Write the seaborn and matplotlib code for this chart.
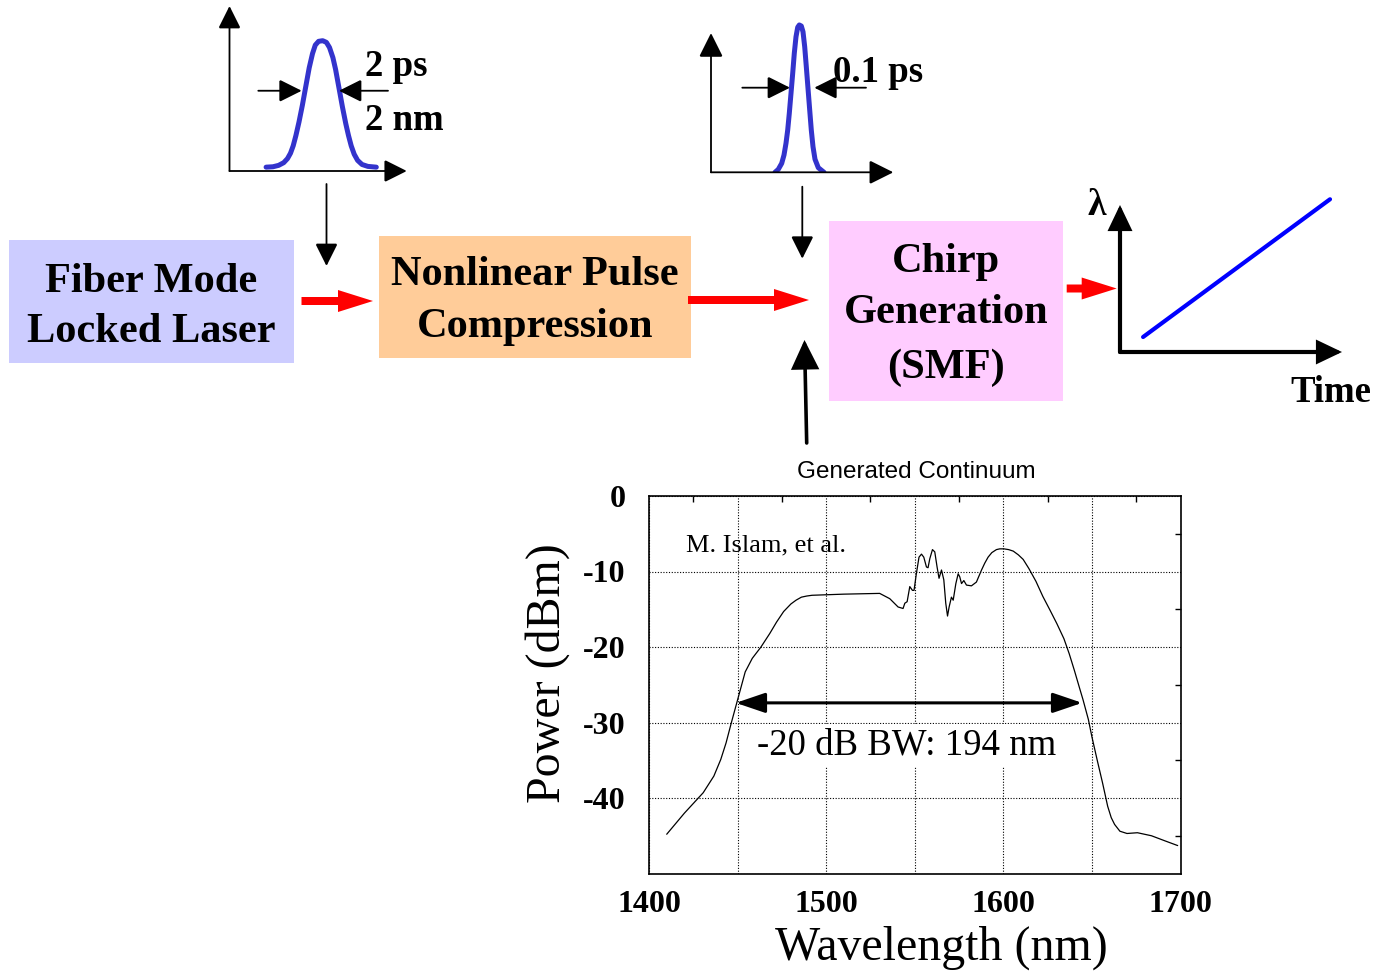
import matplotlib
matplotlib.use("Agg")
import matplotlib.pyplot as plt
import seaborn as sns
from matplotlib.patches import Rectangle, FancyArrow
from matplotlib.ticker import MultipleLocator

# ---------------- data ----------------
wavelength_nm = [1410, 1420, 1430.6, 1436.6, 1440.5, 1443.5, 1446.4, 1450, 1454.3, 1458.3,
                 1463.2, 1468.2, 1472, 1476, 1480.1, 1483, 1486, 1489, 1492, 1497.8,
                 1510, 1520, 1530.2, 1535.9, 1540.6, 1543.4, 1544.4, 1545.7, 1547.2, 1548.7,
                 1549.6, 1550.9, 1552.4, 1553.8, 1555.1, 1556.6, 1557.5, 1558.5, 1560, 1561.3,
                 1562.6, 1563.7, 1565.1, 1566.4, 1567.5, 1568.5, 1569.4, 1570.7, 1571.7, 1573.2,
                 1574.5, 1575.4, 1576.4, 1577.7, 1579.2, 1582, 1584.8, 1587.7, 1589.5, 1591.4,
                 1593.5, 1596.1, 1598, 1600.3, 1603, 1605.6, 1608.5, 1611.2, 1614.4, 1618.4,
                 1622.3, 1626.3, 1630.2, 1634.2, 1637.2, 1640.1, 1643.1, 1645, 1648, 1650,
                 1653, 1656, 1658.9, 1660.9, 1662.8, 1665.8, 1669.8, 1675.7, 1683.6, 1691.5,
                 1698.4]
power_dbm = [-44.8, -42.0, -39.3, -37.1, -34.9, -32.7, -30.1, -27.0, -23.3, -21.5,
             -20.0, -18.2, -16.7, -15.3, -14.3, -13.8, -13.4, -13.25, -13.15, -13.1,
             -13.0, -12.95, -12.9, -13.6, -14.7, -14.9, -14.2, -14.0, -12.0, -12.5,
             -12.5, -10.3, -8.1, -7.7, -8.1, -9.4, -9.5, -8.3, -7.1, -7.4,
             -9.4, -10.9, -9.8, -11.1, -14.2, -15.9, -14.7, -13.4, -13.8, -11.6,
             -10.3, -10.7, -11.6, -11.2, -11.8, -11.9, -11.4, -9.8, -8.9, -8.1,
             -7.5, -7.1, -7.0, -7.0, -7.1, -7.3, -7.8, -8.4, -9.6, -11.3,
             -13.3, -15.1, -16.9, -18.9, -20.9, -23.1, -25.5, -27.0, -29.6, -31.9,
             -35.0, -38.0, -41.1, -42.6, -43.5, -44.4, -44.7, -44.6, -45.0, -45.7,
             -46.3]

x_ticks = [1400, 1450, 1500, 1550, 1600, 1650, 1700]
x_tick_labels = ["1400", "", "1500", "", "1600", "", "1700"]
y_ticks = [0, -10, -20, -30, -40, -50]
y_tick_labels = ["0", "-10", "-20", "-30", "-40", ""]
bw_edges_nm = [1449, 1644.5]
bw_level_dbm = -27.4

# input pulse (arb. units)
pulse1_t = [3.66, 4.34, 4.91, 5.42, 5.8, 6.1, 6.37, 6.64, 6.95, 7.29, 7.63, 7.97, 8.3, 8.58,
            8.91, 9.32, 9.69, 10.0, 10.34, 10.61, 10.95, 11.29, 11.63, 11.9, 12.17, 12.47,
            12.81, 13.25, 13.83, 14.68]
pulse1_a = [0.030, 0.033, 0.044, 0.065, 0.097, 0.139, 0.197, 0.277, 0.383, 0.515, 0.661,
            0.806, 0.917, 0.984, 1.013, 1.018, 1.005, 0.965, 0.886, 0.793, 0.648, 0.502,
            0.369, 0.277, 0.197, 0.131, 0.083, 0.051, 0.036, 0.030]
pulse1_fwhm_level = 0.627
# compressed pulse (arb. units)
pulse2_t = [6.4, 6.73, 7.07, 7.3, 7.5, 7.67, 7.83, 8.0, 8.17, 8.33, 8.5, 8.67, 8.83, 9.03,
            9.2, 9.37, 9.53, 9.7, 9.87, 10.03, 10.2, 10.4, 10.73, 11.3]
pulse2_a = [0.0, 0.023, 0.070, 0.135, 0.227, 0.330, 0.461, 0.617, 0.773, 0.930, 1.059, 1.133,
            1.151, 1.143, 1.098, 0.981, 0.825, 0.656, 0.487, 0.330, 0.2, 0.102, 0.036, 0.0]
pulse2_fwhm_level = 0.661
# chirp (wavelength vs time, arb. units)
chirp_time = [0.104, 0.946]
chirp_wavelength = [0.102, 1.039]

block_lines = [["Fiber Mode", "Locked Laser"],
               ["Nonlinear Pulse", "Compression"],
               ["Chirp", "Generation", "(SMF)"]]
block_colors = ["#ccccff", "#ffcc99", "#ffccff"]

# ---------------- style ----------------
sns.set_style("white")
SERIF = ["Liberation Serif", "DejaVu Serif"]
plt.rcParams["font.family"] = SERIF
plt.rcParams["axes.unicode_minus"] = False
plt.rcParams["text.color"] = "black"
plt.rcParams["axes.labelcolor"] = "black"
plt.rcParams["xtick.color"] = "black"
plt.rcParams["ytick.color"] = "black"

W, H = 1381, 972
fig = plt.figure(figsize=(W / 100, H / 100), dpi=100)
fig.patch.set_facecolor("white")


def px_axes(x0, y0, x1, y1):
    return fig.add_axes([x0 / W, 1 - y1 / H, (x1 - x0) / W, (y1 - y0) / H])


def arrow(ax, start, end, lw, m, hl, hw, color="black"):
    ax.annotate("", xy=end, xytext=start,
                arrowprops=dict(arrowstyle=f"-|>,head_length={hl},head_width={hw}",
                                mutation_scale=m, lw=lw, color=color,
                                shrinkA=0, shrinkB=0, joinstyle="miter"),
                annotation_clip=False)


# ---------------- background diagram layer ----------------
bg = px_axes(0, 0, W, H)
bg.set_xlim(0, W)
bg.set_ylim(H, 0)
bg.axis("off")

boxes = [(9, 240, 294, 362.5), (379, 236, 691.5, 357.5), (829, 221, 1063.5, 400.5)]
baselines = [[291.7, 341.7], [285.0, 336.7], [271.7, 323.3, 378.3]]
for (x0, y0, x1, y1), col, lines, bls in zip(boxes, block_colors, block_lines, baselines):
    bg.add_patch(Rectangle((x0, y0), x1 - x0, y1 - y0, facecolor=col, edgecolor="none"))
    cx = (x0 + x1) / 2
    for line, b in zip(lines, bls):
        bg.text(cx, b, line, ha="center", va="baseline", fontsize=30.5, fontweight="bold")

# red flow arrows
for xs, xe, yy in [(301.5, 373, 301), (688, 809, 300), (1066.7, 1116.7, 288.5)]:
    bg.add_patch(FancyArrow(xs, yy, xe - xs, 0, width=8, head_width=22, head_length=35,
                            length_includes_head=True, color="#ff0000", lw=0))

# black arrows
arrow(bg, (326.5, 184), (326.5, 266), lw=1.3, m=14, hl=1.0, hw=0.5)
arrow(bg, (802.3, 186.7), (802.3, 258.7), lw=1.3, m=14, hl=1.0, hw=0.5)
arrow(bg, (806.7, 443), (804.5, 340), lw=2.6, m=17, hl=1.0, hw=0.48)

bg.text(916.5, 478, "Generated Continuum", ha="center", va="baseline", fontsize=17.5,
        family=["Liberation Sans", "DejaVu Sans"])
bg.text(365.4, 76.3, "2 ps", ha="left", va="baseline", fontsize=26.5, fontweight="bold")
bg.text(365.4, 129.8, "2 nm", ha="left", va="baseline", fontsize=26.5, fontweight="bold")
bg.text(832.7, 81.7, "0.1 ps", ha="left", va="baseline", fontsize=26.5, fontweight="bold")
bg.text(1097, 215, "λ", ha="center", va="baseline", fontsize=27, fontweight="bold")
bg.text(1331, 401.7, "Time", ha="center", va="baseline", fontsize=26.5, fontweight="bold")

# ---------------- input pulse inset ----------------
ax1 = px_axes(229.5, 171 - 1.3 * 128, 229.5 + 18 * 10, 171)
ax1.set_xlim(0, 18)
ax1.set_ylim(0, 1.3)
sns.lineplot(x=pulse1_t, y=pulse1_a, ax=ax1, color="#3333cc", lw=3.6, estimator=None,
             sort=False, solid_joinstyle="round", solid_capstyle="round")
ax1.axis("off")
arrow(ax1, (0, 0), (0, 1.289), lw=1.3, m=14, hl=1.0, hw=0.5)
arrow(ax1, (0, 0), (17.73, 0), lw=1.3, m=14, hl=1.0, hw=0.5)
arrow(ax1, (2.88, pulse1_fwhm_level), (7.22, pulse1_fwhm_level), lw=1.3, m=14, hl=1.0, hw=0.5)
arrow(ax1, (15.85, pulse1_fwhm_level), (10.95, pulse1_fwhm_level), lw=1.3, m=14, hl=1.0, hw=0.5)

# ---------------- compressed pulse inset ----------------
ax2 = px_axes(711, 172.3 - 1.25 * 128, 711 + 19 * 10, 172.3)
ax2.set_xlim(0, 19)
ax2.set_ylim(0, 1.25)
sns.lineplot(x=pulse2_t, y=pulse2_a, ax=ax2, color="#3333cc", lw=3.6, estimator=None,
             sort=False, solid_joinstyle="round", solid_capstyle="round")
ax2.axis("off")
arrow(ax2, (0, 0), (0, 1.088), lw=1.3, m=15, hl=1.0, hw=0.5)
arrow(ax2, (0, 0), (18.23, 0), lw=1.3, m=15, hl=1.0, hw=0.5)
arrow(ax2, (3.13, pulse2_fwhm_level), (7.9, pulse2_fwhm_level), lw=1.3, m=14, hl=1.0, hw=0.5)
arrow(ax2, (15.5, pulse2_fwhm_level), (10.33, pulse2_fwhm_level), lw=1.3, m=14, hl=1.0, hw=0.5)

# ---------------- chirp inset ----------------
ax3 = px_axes(1120, 190, 1350, 352)
ax3.set_xlim(0, 230 / 222)
ax3.set_ylim(0, 162 / 147)
sns.lineplot(x=chirp_time, y=chirp_wavelength, ax=ax3, color="#0000ff", lw=3.0, estimator=None)
ax3.axis("off")
arrow(ax3, (0, 0), (0, 1.0), lw=3.0, m=12, hl=1.15, hw=0.55)
arrow(ax3, (0, 0), (1.0, 0), lw=3.0, m=12, hl=1.15, hw=0.55)

# ---------------- spectrum ----------------
ax = px_axes(649, 496, 1180.5, 873.5)
sns.lineplot(x=wavelength_nm, y=power_dbm, ax=ax, color="black", lw=0.9, estimator=None)
ax.set_xlim(1400, 1700)
ax.set_ylim(-50, 0)
ax.set_xticks(x_ticks)
ax.set_xticklabels(x_tick_labels)
ax.set_yticks(y_ticks)
ax.set_yticklabels(y_tick_labels)
ax.xaxis.set_minor_locator(MultipleLocator(25))
ax.yaxis.set_minor_locator(MultipleLocator(5))
ax.tick_params(which="both", direction="in", top=True, right=True, colors="black")
ax.tick_params(which="major", length=0)
ax.tick_params(which="minor", length=4, width=1)
ax.tick_params(axis="x", which="major", pad=12, labelsize=23)
ax.tick_params(axis="y", which="major", pad=17, labelsize=23)
for lab in ax.get_xticklabels() + ax.get_yticklabels():
    lab.set_fontweight("bold")
ax.grid(True, which="major", ls=(0, (1, 1.5)), color="black", lw=0.8)
ax.set_axisbelow(True)
for sp in ax.spines.values():
    sp.set_visible(True)
    sp.set_color("black")
    sp.set_linewidth(1.2)

ax.set_xlabel("Wavelength (nm)", fontsize=34.5, va="baseline")
ax.xaxis.set_label_coords(0.550, -0.229)
ax.set_ylabel("Power (dBm)", fontsize=34.5)
ax.yaxis.label.set_va("center")
ax.yaxis.set_label_coords(-0.190, 0.531)

ax.text(1420.9, -7.3, "M. Islam, et al.", ha="left", va="baseline", fontsize=19)
ax.annotate("", xy=(bw_edges_nm[1], bw_level_dbm), xytext=(bw_edges_nm[0], bw_level_dbm),
            arrowprops=dict(arrowstyle="<|-|>,head_length=1.0,head_width=0.34",
                            mutation_scale=18, lw=2.2, color="black", shrinkA=0, shrinkB=0))
ax.text(1545.2, -34.3, "-20 dB BW: 194 nm", ha="center", va="baseline", fontsize=26.5,
        zorder=5, bbox=dict(boxstyle="square,pad=0.12", facecolor="white", edgecolor="none"))

fig.savefig("out.png", dpi=100, facecolor="white")
